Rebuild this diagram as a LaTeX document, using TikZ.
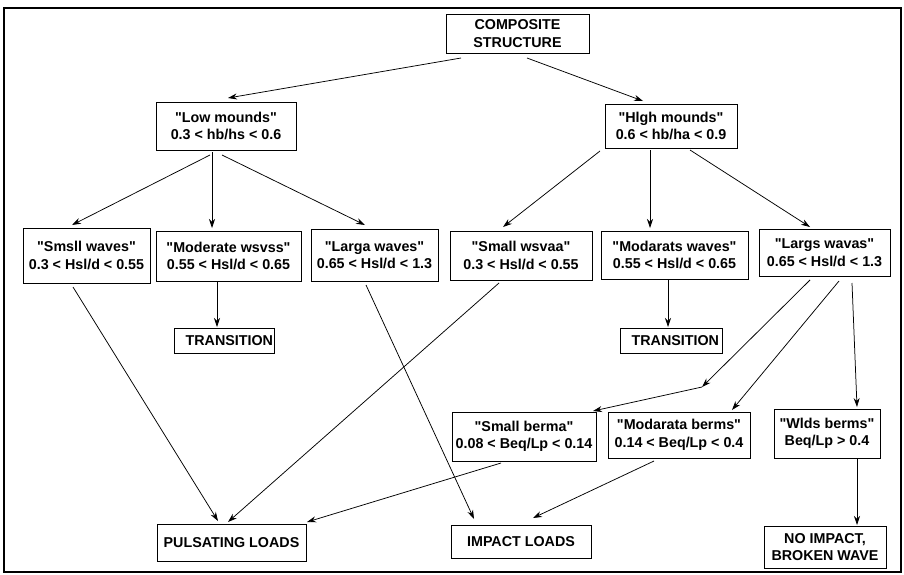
\documentclass[tikz,border=0pt]{standalone}
\usepackage{fontspec}
\setmainfont{Liberation Sans}[Ligatures=TeXOff]
\usetikzlibrary{arrows.meta}
\begin{document}
\begin{tikzpicture}[x=1pt,y=-1pt,
  box/.style={draw, line width=1pt, inner sep=0pt, align=center,
    font=\bfseries\fontsize{14.3}{17.5}\selectfont},
  arr/.style={-{Stealth[length=9pt,width=6pt]}, line width=0.75pt},
  frame/.style={line width=1.8pt},
]
\useasboundingbox (0,0) rectangle (904,574);
\draw[frame] (4,8) rectangle (901,572);

% level 0
\node[box, minimum width=143pt, minimum height=39pt] (comp) at (517.5,33.5) {COMPOSITE\\STRUCTURE};
% level 1
\node[box, minimum width=140pt, minimum height=48pt] (low) at (226,126) {"Low mounds"\\0.3 < hb/hs < 0.6};
\node[box, minimum width=132pt, minimum height=44pt] (high) at (671,126) {"Hlgh mounds"\\0.6 < hb/ha < 0.9};
% level 2
\node[box, minimum width=127pt, minimum height=55pt] (sw1) at (86.5,255.5) {"Smsll waves"\\0.3 < Hsl/d < 0.55};
\node[box, minimum width=145pt, minimum height=50pt] (mw1) at (228.5,256) {"Moderate wsvss"\\0.55 < Hsl/d < 0.65};
\node[box, minimum width=127pt, minimum height=52pt] (lw1) at (374.5,255) {"Larga waves"\\0.65 < Hsl/d < 1.3};
\node[box, minimum width=142pt, minimum height=49pt] (sw2) at (521,255.5) {"Small wsvaa"\\0.3 < Hsl/d < 0.55};
\node[box, minimum width=147pt, minimum height=48pt] (mw2) at (674.5,255) {"Modarats waves"\\0.55 < Hsl/d < 0.65};
\node[box, minimum width=131pt, minimum height=47pt] (lw2) at (824.5,252.5) {"Largs wavas"\\0.65 < Hsl/d < 1.3};
% transitions
\node[box, minimum height=25pt, text width=98pt, inner xsep=1pt, align=right] (tr1) at (224,340.5) {TRANSITION};
\node[box, minimum height=25pt, text width=96pt, inner xsep=3pt, align=right] (tr2) at (671,340.5) {TRANSITION};
% berms
\node[box, minimum width=144pt, minimum height=49pt] (sb) at (524,436.5) {"Small berma"\\0.08 < Beq/Lp < 0.14};
\node[box, minimum width=142pt, minimum height=46pt] (mb) at (679,435) {"Modarata berms"\\0.14 < Beq/Lp < 0.4};
\node[box, minimum width=106pt, minimum height=49pt] (wb) at (827,433.5) {"Wlds berms"\\Beq/Lp > 0.4};
% results
\node[box, minimum width=149pt, minimum height=37pt] (pl) at (231.5,542.5) {PULSATING LOADS};
\node[box, minimum width=140pt, minimum height=33pt] (il) at (521,541.5) {IMPACT LOADS};
\node[box, minimum width=122pt, minimum height=42pt] (ni) at (825,547) {NO IMPACT,\\BROKEN WAVE};

\coordinate (bend) at (702,387);

% connectors
\draw[arr] ([shift={(-56.5,24.5)}]comp.center) -- ([shift={(2,-28)}]low.center);
\draw[arr] ([shift={(9.5,24.5)}]comp.center) -- ([shift={(-28,-25)}]high.center);

\draw[arr] ([shift={(-16,29)}]low.center) -- ([shift={(-14.5,-30.5)}]sw1.center);
\draw[arr] ([shift={(-14,26)}]low.center) -- ([shift={(-16.5,-28)}]mw1.center);
\draw[arr] ([shift={(-4,29)}]low.center) -- ([shift={(-9.5,-30)}]lw1.center);

\draw[arr] ([shift={(-71,25)}]high.center) -- ([shift={(-18,-28.5)}]sw2.center);
\draw[arr] ([shift={(-21,24)}]high.center) -- ([shift={(-24.5,-27)}]mw2.center);
\draw[arr] ([shift={(19,24)}]high.center) -- ([shift={(-14.5,-25.5)}]lw2.center);

\draw[arr] ([shift={(-11.5,26)}]mw1.center) -- ([shift={(-7,-13.5)}]tr1.center);
\draw[arr] ([shift={(-6.5,25)}]mw2.center) -- ([shift={(-3,-13.5)}]tr2.center);

\draw[arr] ([shift={(-13.5,31.5)}]sw1.center) -- ([shift={(-13.5,-21.5)}]pl.center);
\draw[arr] ([shift={(-22,27.5)}]sw2.center) -- ([shift={(-3.5,-20.5)}]pl.center);
\draw[arr] ([shift={(-8.5,30)}]lw1.center) -- ([shift={(-47,-22.5)}]il.center);
\draw[arr] ([shift={(-23,26.5)}]sb.center) -- ([shift={(75.5,-20.5)}]pl.center);
\draw[arr] ([shift={(-25,26)}]mb.center) -- ([shift={(12,-23.5)}]il.center);

\draw[arr] ([shift={(-14.5,27.5)}]lw2.center) -- (bend);
\draw[arr] (bend) -- ([shift={(69,-25.5)}]sb.center);
\draw[arr] ([shift={(14.5,28.5)}]lw2.center) -- ([shift={(53,-25)}]mb.center);
\draw[arr] ([shift={(27.5,30.5)}]lw2.center) -- ([shift={(30,-26.5)}]wb.center);
\draw[arr] ([shift={(30,25.5)}]wb.center) -- ([shift={(32,-22)}]ni.center);
\end{tikzpicture}
\end{document}
